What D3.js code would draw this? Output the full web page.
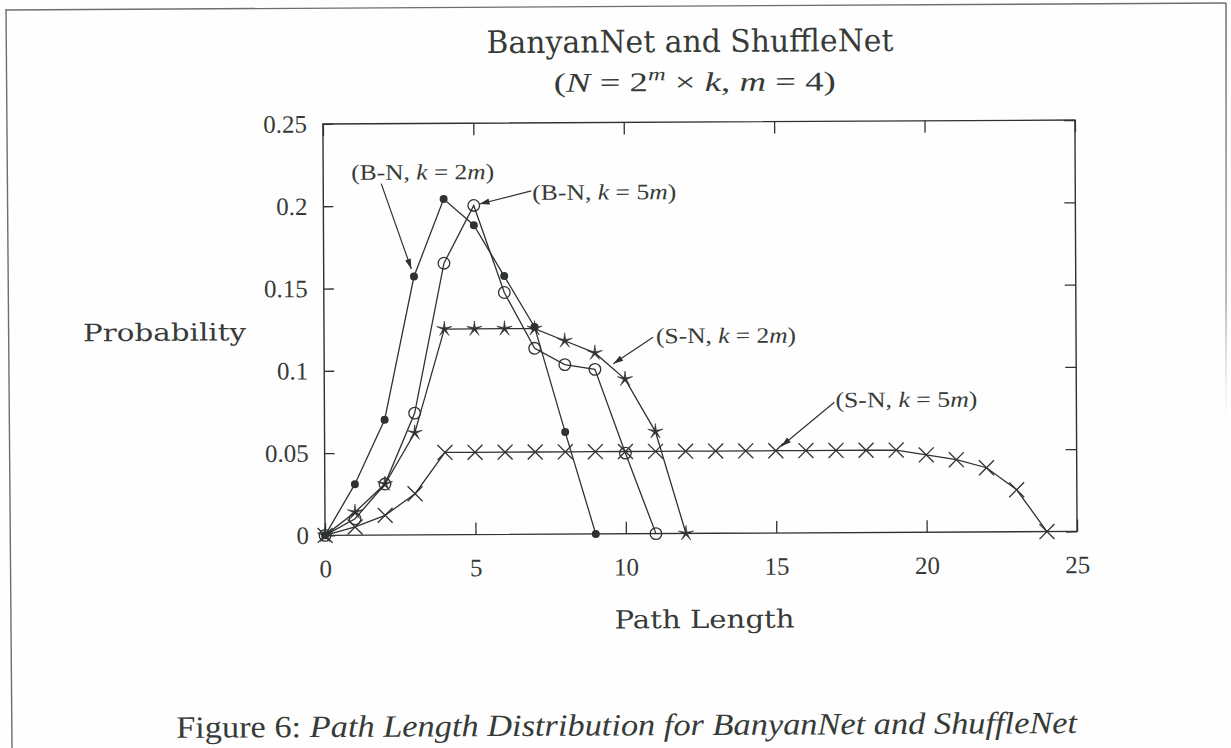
<!DOCTYPE html>
<html>
<head>
<meta charset="utf-8">
<script src="https://cdn.jsdelivr.net/npm/d3@7"></script>
<style>
  html, body { margin: 0; padding: 0; background: #fefefe; }
  svg { display: block; }
</style>
</head>
<body>
<svg id="chart" width="1231" height="748"></svg>
<script>
// Path length values (x) and probabilities (y) for each network configuration
const bn2mX = [0, 1, 2, 3, 4, 5, 6, 7, 8, 9];
const bn2mY = [0, 0.031, 0.070, 0.157, 0.204, 0.188, 0.157, 0.126, 0.062, 0];

const bn5mX = [0, 1, 2, 3, 4, 5, 6, 7, 8, 9, 10, 11];
const bn5mY = [0, 0.010, 0.031, 0.074, 0.165, 0.200, 0.147, 0.113, 0.103, 0.100, 0.049, 0];

const sn2mX = [0, 1, 2, 3, 4, 5, 6, 7, 8, 9, 10, 11, 12];
const sn2mY = [0, 0.014, 0.031, 0.062, 0.125, 0.125, 0.125, 0.125, 0.1175, 0.110, 0.094, 0.062, 0];

const sn5mX = [0, 1, 2, 3, 4, 5, 6, 7, 8, 9, 10, 11, 12, 13, 14, 15, 16, 17, 18, 19, 20, 21, 22, 23, 24];
const sn5mY = [0, 0.005, 0.012, 0.025, 0.050, 0.050, 0.050, 0.050, 0.050, 0.050, 0.050, 0.050, 0.050,
               0.050, 0.050, 0.050, 0.050, 0.050, 0.050, 0.050, 0.047, 0.044, 0.039, 0.0255, 0];

// Axis ticks and their labels
const xTicks = [0, 5, 10, 15, 20, 25];
const xTickLabels = ["0", "5", "10", "15", "20", "25"];
const yTicks = [0, 0.05, 0.1, 0.15, 0.2, 0.25];
const yTickLabels = ["0", "0.05", "0.1", "0.15", "0.2", "0.25"];

const ink = "#2e332f";
const textInk = "#363b37";
const serifWide = "'DejaVu Serif', serif";
const serifTall = "'Liberation Serif', 'Times New Roman', serif";

const svg = d3.select("#chart");

// Page border lines
svg.append("line").attr("x1", 6).attr("y1", 9).attr("x2", 12).attr("y2", 748)
  .attr("stroke", "#6b6f6c").attr("stroke-width", 1.4);
svg.append("line").attr("x1", 6).attr("y1", 10).attr("x2", 1226).attr("y2", 3)
  .attr("stroke", "#6b6f6c").attr("stroke-width", 1.4);
const defs = svg.append("defs");
const fade = defs.append("linearGradient").attr("id", "edgeFade")
  .attr("x1", 0).attr("y1", 0).attr("x2", 0).attr("y2", 1);
fade.append("stop").attr("offset", "0%").attr("stop-color", "#6b6f6c").attr("stop-opacity", 1);
fade.append("stop").attr("offset", "70%").attr("stop-color", "#8a8c80").attr("stop-opacity", 0.8);
fade.append("stop").attr("offset", "100%").attr("stop-color", "#c8c2a8").attr("stop-opacity", 0);
svg.append("rect").attr("x", 1225.3).attr("y", 3).attr("width", 1.5).attr("height", 420)
  .attr("fill", "url(#edgeFade)");

// Arrowhead used by the annotations
defs.append("marker")
  .attr("id", "arrow").attr("markerUnits", "userSpaceOnUse")
  .attr("viewBox", "0 -4 10 8").attr("refX", 10).attr("refY", 0)
  .attr("markerWidth", 11).attr("markerHeight", 8).attr("orient", "auto")
  .append("path").attr("d", "M0,-3L10,0L0,3Z").attr("fill", ink);

const g = svg.append("g").attr("transform", "rotate(-0.3, 700, 330)");

const x = d3.scaleLinear().domain([0, 25]).range([324, 1076]);
const y = d3.scaleLinear().domain([0, 0.25]).range([533.4, 122]);

// Plot frame
g.append("rect")
  .attr("x", x(0)).attr("y", y(0.25))
  .attr("width", x(25) - x(0)).attr("height", y(0) - y(0.25))
  .attr("fill", "none").attr("stroke", ink).attr("stroke-width", 1.4);

function styleAxis(sel, showText) {
  sel.select(".domain").remove();
  sel.selectAll(".tick line").attr("stroke", ink).attr("stroke-width", 1.3);
  if (showText) {
    sel.selectAll(".tick text")
      .attr("fill", textInk)
      .style("font-family", serifTall)
      .style("font-size", "25px");
  } else {
    sel.selectAll(".tick text").remove();
  }
}

g.append("g").attr("transform", `translate(0,${y(0)})`)
  .call(d3.axisBottom(x).tickValues(xTicks).tickSize(-12).tickPadding(24)
        .tickFormat((d, i) => xTickLabels[i]))
  .call(s => styleAxis(s, true));

g.append("g").attr("transform", `translate(0,${y(0.25)})`)
  .call(d3.axisTop(x).tickValues(xTicks).tickSize(-12))
  .call(s => styleAxis(s, false));

g.append("g").attr("transform", `translate(${x(0)},0)`)
  .call(d3.axisLeft(y).tickValues(yTicks).tickSize(-10).tickPadding(16)
        .tickFormat((d, i) => yTickLabels[i]))
  .call(s => styleAxis(s, true));

g.append("g").attr("transform", `translate(${x(25)},0)`)
  .call(d3.axisRight(y).tickValues(yTicks).tickSize(-11))
  .call(s => styleAxis(s, false));

// Marker shapes: a thin-armed five-point star and a diagonal cross
const starSymbol = {
  draw(ctx, size) {
    const R = Math.sqrt(size), r = R * 0.2;
    for (let i = 0; i < 10; i++) {
      const rad = i % 2 === 0 ? R : r;
      const a = -Math.PI / 2 + i * Math.PI / 5;
      const px = rad * Math.cos(a), py = rad * Math.sin(a);
      if (i === 0) ctx.moveTo(px, py); else ctx.lineTo(px, py);
    }
    ctx.closePath();
  }
};
const crossSymbol = {
  draw(ctx, size) {
    const s = Math.sqrt(size);
    ctx.moveTo(-s, -s); ctx.lineTo(s, s);
    ctx.moveTo(-s, s); ctx.lineTo(s, -s);
  }
};

const series = [
  { xs: sn5mX, ys: sn5mY, marker: "cross" },
  { xs: sn2mX, ys: sn2mY, marker: "star" },
  { xs: bn5mX, ys: bn5mY, marker: "circle" },
  { xs: bn2mX, ys: bn2mY, marker: "dot" }
];

const line = d3.line().x(d => x(d[0])).y(d => y(d[1]));

series.forEach(s => {
  const pts = s.xs.map((v, i) => [v, s.ys[i]]);
  g.append("path").datum(pts).attr("d", line)
    .attr("fill", "none").attr("stroke", ink).attr("stroke-width", 1.3);

  const m = g.append("g").selectAll("g").data(pts).join("g")
    .attr("transform", d => `translate(${x(d[0])},${y(d[1])})`);

  if (s.marker === "dot") {
    m.append("circle").attr("r", 4).attr("fill", ink);
  } else if (s.marker === "circle") {
    m.append("circle").attr("r", 5.8).attr("fill", "none")
      .attr("stroke", ink).attr("stroke-width", 1.3);
  } else if (s.marker === "star") {
    m.append("path").attr("d", d3.symbol().type(starSymbol).size(64))
      .attr("fill", ink).attr("stroke", ink).attr("stroke-width", 0.6);
  } else {
    m.append("path").attr("d", d3.symbol().type(crossSymbol).size(56))
      .attr("fill", "none").attr("stroke", ink).attr("stroke-width", 1.3);
  }
});

// Annotations: label text, arrow tail, and the data location the arrow points to
const annotations = [
  { k: "2", tag: "B-N", tx: 352, ty: 178, w: 143, tail: [382, 182], target: [3, bn2mY[3]], gap: 8 },
  { k: "5", tag: "B-N", tx: 533, ty: 199, w: 144, tail: [532, 190], target: [5, bn5mY[5]], gap: 6 },
  { k: "2", tag: "S-N", tx: 656, ty: 343, w: 140, tail: [653, 337], target: [9.5, (sn2mY[9] + sn2mY[10]) / 2], gap: 4 },
  { k: "5", tag: "S-N", tx: 835, ty: 408, w: 142, tail: [834, 403], target: [15, sn5mY[15]], gap: 7 }
];

annotations.forEach(a => {
  const px = x(a.target[0]), py = y(a.target[1]);
  const dx = px - a.tail[0], dy = py - a.tail[1];
  const len = Math.hypot(dx, dy);
  const tipX = px - dx / len * a.gap, tipY = py - dy / len * a.gap;
  g.append("line")
    .attr("x1", a.tail[0]).attr("y1", a.tail[1]).attr("x2", tipX).attr("y2", tipY)
    .attr("stroke", ink).attr("stroke-width", 1.2).attr("marker-end", "url(#arrow)");

  const t = g.append("text").attr("x", a.tx).attr("y", a.ty)
    .attr("fill", textInk).style("font-family", serifTall).style("font-size", "22px")
    .attr("textLength", a.w).attr("lengthAdjust", "spacingAndGlyphs");
  t.append("tspan").text(`(${a.tag}, `);
  t.append("tspan").attr("font-style", "italic").text("k");
  t.append("tspan").text(` = ${a.k}`);
  t.append("tspan").attr("font-style", "italic").text("m");
  t.append("tspan").text(")");
});

// Titles and axis labels
g.append("text").attr("x", 488).attr("y", 52)
  .attr("fill", textInk).style("font-family", serifWide).style("font-size", "31px")
  .attr("textLength", 407).attr("lengthAdjust", "spacingAndGlyphs")
  .text("BanyanNet and ShuffleNet");

const sub = g.append("text").attr("x", 555).attr("y", 91)
  .attr("fill", textInk).style("font-family", serifTall).style("font-size", "27px")
  .attr("textLength", 282).attr("lengthAdjust", "spacingAndGlyphs");
sub.append("tspan").text("(");
sub.append("tspan").attr("font-style", "italic").text("N");
sub.append("tspan").text(" = 2");
sub.append("tspan").attr("font-style", "italic").attr("font-size", "18px").attr("dy", -11).text("m");
sub.append("tspan").attr("dy", 11).text(" × ");
sub.append("tspan").attr("font-style", "italic").text("k");
sub.append("tspan").text(", ");
sub.append("tspan").attr("font-style", "italic").text("m");
sub.append("tspan").text(" = 4)");

g.append("text").attr("x", 83).attr("y", 338)
  .attr("fill", textInk).style("font-family", serifWide).style("font-size", "24px")
  .attr("textLength", 163).attr("lengthAdjust", "spacingAndGlyphs")
  .text("Probability");

g.append("text").attr("x", 613).attr("y", 628)
  .attr("fill", textInk).style("font-family", serifWide).style("font-size", "25px")
  .attr("textLength", 180).attr("lengthAdjust", "spacingAndGlyphs")
  .text("Path Length");

// Figure caption
const cap = g.append("text").attr("x", 174).attr("y", 735)
  .attr("fill", textInk).style("font-family", serifTall).style("font-size", "31px")
  .attr("textLength", 901).attr("lengthAdjust", "spacingAndGlyphs");
cap.append("tspan").text("Figure 6: ");
cap.append("tspan").attr("font-style", "italic")
  .text("Path Length Distribution for BanyanNet and ShuffleNet");
</script>
</body>
</html>
